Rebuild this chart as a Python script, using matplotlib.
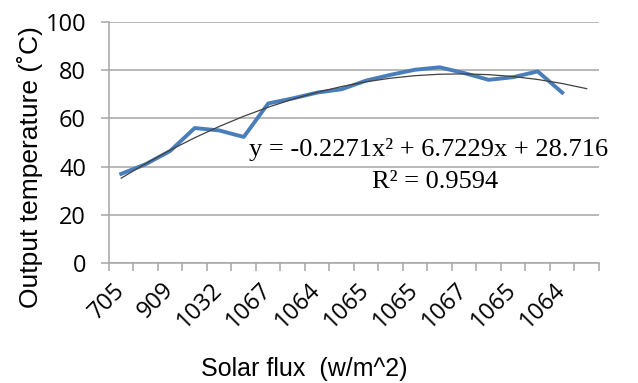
import numpy as np
import matplotlib.pyplot as plt
from matplotlib.ticker import FixedLocator

# category labels (only every other one is printed on the axis)
flux_labels = ['705', '', '909', '', '1032', '', '1067', '', '1064', '',
               '1065', '', '1065', '', '1067', '', '1065', '', '1064', '']
# output temperature, deg C (last category is empty)
temps = [37, 41, 46.5, 56, 55, 52.3, 66.2, 68.3, 70.7, 72.1,
         75.7, 78.1, 80.2, 81.2, 78.8, 76, 77.1, 79.5, 70.7]
# polynomial trendline shown on chart
coef = [-0.2271, 6.7229, 28.716]
r2 = 0.9594

fig = plt.figure(figsize=(6.38, 3.83), dpi=100)
ax = fig.add_axes([0.1708, 0.3133, 0.768, 0.6293])

n = len(flux_labels)
x = np.arange(len(temps))
ax.plot(x, temps, color='#4A7EBB', lw=2.8, zorder=3)

# trendline evaluated at category numbers 1..n
xt = np.arange(1, n + 1)
ax.plot(xt - 1, np.polyval(coef, xt), color='#404040', lw=0.9, zorder=4)

ax.set_xlim(-0.5, n - 0.5)
ax.set_ylim(0, 100)
ax.set_yticks(np.arange(0, 101, 20))
ax.grid(axis='y', color='#A6A6A6', lw=1.1)
ax.set_axisbelow(True)
for s in ['top', 'right']:
    ax.spines[s].set_visible(False)
for s in ['left', 'bottom']:
    ax.spines[s].set_color('#A6A6A6')
    ax.spines[s].set_linewidth(1.1)

ax.set_xticks(x[::2])
ax.set_xticklabels(flux_labels[::2], rotation=45, ha='right', va='center',
                   rotation_mode='anchor', fontsize=17, family='Open Sans')
ax.xaxis.set_minor_locator(FixedLocator(np.arange(-0.5, n, 1)))
ax.tick_params(axis='x', which='major', length=0, pad=17)
ax.tick_params(axis='x', which='minor', length=5.5, width=1.1, color='#A6A6A6')
ax.tick_params(axis='y', length=5.5, width=1.1, color='#A6A6A6',
               labelsize=17, pad=11)
for t in ax.get_yticklabels():
    t.set_family('Open Sans')

fig.text(0.047, 0.565, 'Output temperature (˚C)', rotation=90, ha='center',
         va='center', fontsize=19, family='Liberation Sans')
fig.text(0.4765, 0.037, 'Solar flux  (w/m^2)', ha='center', va='center',
         fontsize=18, family='Liberation Sans')

ax.text(0.652, 0.469, f'y = {coef[0]}x² + {coef[1]}x + {coef[2]}',
        transform=ax.transAxes, ha='center', va='center', fontsize=19,
        family='Liberation Serif')
ax.text(0.665, 0.336, f'R² = {r2}', transform=ax.transAxes, ha='center',
        va='center', fontsize=19, family='Liberation Serif')

fig.savefig('out.png', dpi=100)
